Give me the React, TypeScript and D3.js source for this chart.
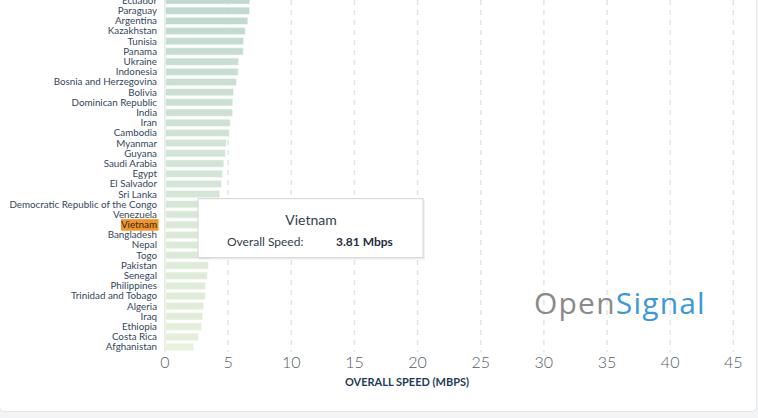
import React from "react";
import * as d3 from "d3";

const countries = [
  "Ecuador", "Paraguay", "Argentina", "Kazakhstan", "Tunisia", "Panama",
  "Ukraine", "Indonesia", "Bosnia and Herzegovina", "Bolivia",
  "Dominican Republic", "India", "Iran", "Cambodia", "Myanmar", "Guyana",
  "Saudi Arabia", "Egypt", "El Salvador", "Sri Lanka",
  "Democratic Republic of the Congo", "Venezuela", "Vietnam", "Bangladesh",
  "Nepal", "Togo", "Pakistan", "Senegal", "Philippines",
  "Trinidad and Tobago", "Algeria", "Iraq", "Ethiopia", "Costa Rica",
  "Afghanistan",
];

const speeds = [
  6.68, 6.66, 6.52, 6.31, 6.18, 6.15, 5.78, 5.75, 5.62, 5.38, 5.33, 5.3,
  5.12, 5.04, 4.8, 4.73, 4.62, 4.49, 4.43, 4.3, 4.18, 4.0, 3.81, 3.7, 3.6,
  3.5, 3.38, 3.3, 3.17, 3.14, 3.01, 2.93, 2.83, 2.59, 2.22,
];

const ticks = [0, 5, 10, 15, 20, 25, 30, 35, 40, 45];

const highlighted = "Vietnam";

const W = 758;
const H = 418;
const FONT = "Lato, 'DejaVu Sans', sans-serif";

export default function App() {
  const x = d3.scaleLinear().domain([0, 45]).range([165, 733.3]);
  const y = d3
    .scaleBand<string>()
    .domain(countries)
    .range([-4.6, -4.6 + countries.length * 10.19])
    .paddingInner(0.3)
    .paddingOuter(0.15);

  // lighter bars for slower countries
  const color = d3
    .scaleLinear<string>()
    .domain([2.2, 6.7])
    .range(["#e7f1db", "#bfd9d0"]);

  const gridBottom = 352;
  const hi = speeds[countries.indexOf(highlighted)];
  const hiY = y(highlighted)! + y.bandwidth() / 2;

  return (
    <div style={{ position: "fixed", left: 0, top: 0 }}>
      <svg width={W} height={H} style={{ display: "block" }}>
        <rect width={W} height={H} fill="#f2f4f5" />
        <rect x={-0.5} y={-10} width={757} height={421.5} rx={4} fill="#ffffff" stroke="#dfe5ea" />

        {/* grid */}
        {ticks.slice(1).map((t) => (
          <line
            key={t}
            x1={x(t)}
            x2={x(t)}
            y1={0}
            y2={gridBottom}
            stroke="#e4e4e4"
            strokeWidth={1.5}
            strokeDasharray="5,5"
          />
        ))}
        <line x1={x(0)} x2={x(0)} y1={0} y2={gridBottom} stroke="#d8d8d8" strokeWidth={1} />

        {/* bars */}
        {countries.map((c, i) => (
          <rect
            key={c}
            x={x(0) + 0.5}
            y={y(c)}
            width={x(speeds[i]) - x(0)}
            height={y.bandwidth()}
            fill={color(speeds[i])}
            stroke="#f4f8f2"
            strokeWidth={0.6}
          />
        ))}

        {/* labels */}
        {countries.map((c) => {
          const cy = y(c)! + y.bandwidth() / 2;
          return (
            <g key={c}>
              {c === highlighted && (
                <rect x={121} y={cy - 5.5} width={37.5} height={11.5} fill="#f7931e" />
              )}
              <text
                x={157}
                y={cy}
                dy="0.35em"
                textAnchor="end"
                fontFamily={FONT}
                fontSize={9.8}
                fill={c === highlighted ? "#1d2b3a" : "#34475c"}
              >
                {c}
              </text>
            </g>
          );
        })}

        {/* x axis */}
        {ticks.map((t) => (
          <text
            key={t}
            x={x(t)}
            y={362.5}
            dy="0.35em"
            textAnchor="middle"
            fontFamily={FONT}
            fontWeight={300}
            fontSize={16}
            fill="#555b63"
          >
            {t}
          </text>
        ))}
        <text
          x={407}
          y={382}
          dy="0.35em"
          textAnchor="middle"
          fontFamily={FONT}
          fontWeight={700}
          fontSize={11}
          fill="#1f3b57"
        >
          OVERALL SPEED (MBPS)
        </text>

        {/* logo */}
        <text
          x={534}
          y={313.5}
          fontFamily="'Open Sans', sans-serif"
          fontSize={30}
          fontWeight={400}
          letterSpacing={1.2}
        >
          <tspan fill="#8a8a8a">Open</tspan>
          <tspan fill="#3a9ad6">Signal</tspan>
        </text>

        {/* tooltip */}
        <g transform={`translate(198, ${hiY - 26})`}>
          <rect x={1} y={1} width={226} height={60} fill="#000" opacity={0.06} />
          <rect x={0} y={0} width={225} height={59} fill="#ffffff" stroke="#d4d4d4" />
          <text x={113} y={26} textAnchor="middle" fontFamily={FONT} fontSize={14} fill="#33404d">
            {highlighted}
          </text>
          <text x={29} y={47} fontFamily={FONT} fontSize={12} fill="#33404d">
            Overall Speed:
          </text>
          <text x={138} y={47} fontFamily={FONT} fontSize={12} fontWeight={700} fill="#1f2f3f">
            {d3.format(".2f")(hi)} Mbps
          </text>
        </g>
      </svg>
    </div>
  );
}
